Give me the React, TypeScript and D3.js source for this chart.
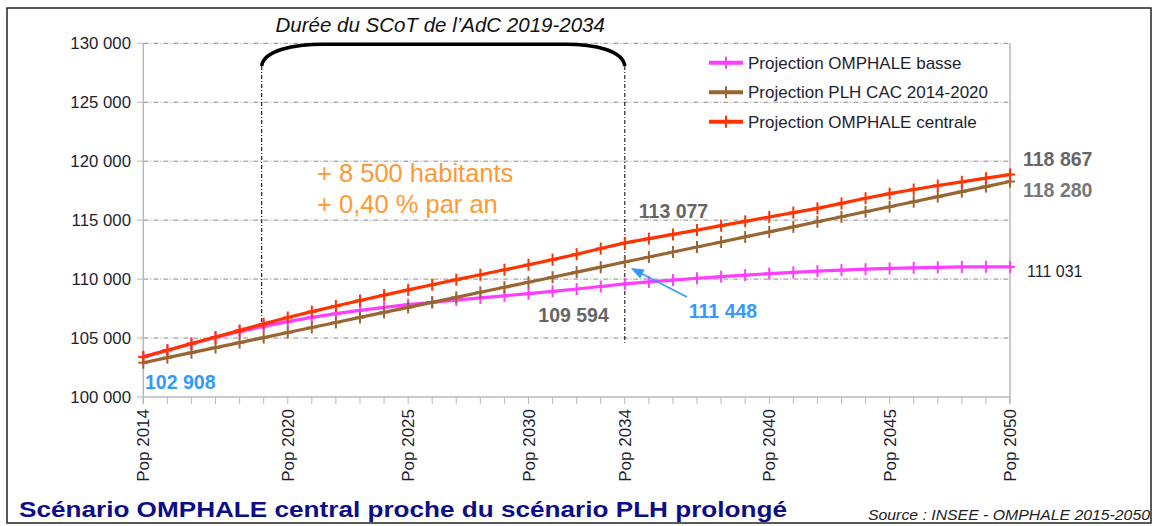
import React from "react";
import * as d3 from "d3";

const years = [2014,2015,2016,2017,2018,2019,2020,2021,2022,2023,2024,2025,2026,2027,2028,2029,2030,2031,2032,2033,2034,2035,2036,2037,2038,2039,2040,2041,2042,2043,2044,2045,2046,2047,2048,2049,2050];

const basse = [103400,103960,104520,105050,105550,105990,106390,106750,107070,107350,107600,107830,108030,108220,108400,108580,108770,108960,109160,109370,109594,109760,109920,110070,110210,110340,110460,110570,110670,110760,110840,110910,110960,111000,111030,111045,111031];
const plh = [102908,103335,103760,104190,104615,105040,105470,105895,106320,106750,107175,107600,108030,108455,108880,109310,109735,110160,110590,111015,111448,111870,112300,112725,113150,113580,114005,114430,114860,115285,115710,116140,116565,116990,117420,117845,118280];
const centrale = [103400,103960,104530,105090,105650,106200,106740,107240,107720,108190,108640,109090,109520,109950,110370,110790,111220,111650,112110,112590,113077,113430,113790,114160,114530,114900,115270,115640,116000,116420,116860,117250,117600,117940,118250,118560,118867];

const yTicks = [100000,105000,110000,115000,120000,125000,130000];
const xLabelYears = [2014,2020,2025,2030,2034,2040,2045,2050];

const seriesNames = ["Projection OMPHALE basse","Projection PLH CAC 2014-2020","Projection OMPHALE centrale"];
const seriesColors = ["#ff3dff","#996633","#ff3300"];
const seriesValues = [basse, plh, centrale];

const fmt = (v: number) => d3.format(",")(v).replace(/,/g, " ");

export default function App() {
  const x = d3.scaleLinear().domain([2014, 2050]).range([143.3, 1010]);
  const y = d3.scaleLinear().domain([100000, 130000]).range([397, 43.3]);
  const line = d3.line<number>().x((_, i) => x(years[i])).y((d) => y(d));
  const font = "'Liberation Sans', Arial, sans-serif";
  const grid = "#8a8a8a";
  const axis = "#b8b8b8";

  const xs = x(2019);
  const xe = x(2034);
  const braceTop = y(130000) + 1;
  const braceEnd = 66;

  // arrow
  const tipX = x(2034) + 6, tipY = y(111448) + 6;
  const tailX = x(2036) + 14, tailY = y(111448) + 35;
  const ang = Math.atan2(tipY - tailY, tipX - tailX);
  const ah = 13, aw = 5;
  const bx = tipX - ah * Math.cos(ang), by = tipY - ah * Math.sin(ang);
  const p1 = [bx + aw * Math.sin(ang), by - aw * Math.cos(ang)];
  const p2 = [bx - aw * Math.sin(ang), by + aw * Math.cos(ang)];

  return (
    <svg width={1155} height={526} style={{ position: "absolute", left: 0, top: 0, background: "#fff" }} fontFamily={font}>
      <rect x={0} y={0} width={1155} height={526} fill="#fff" />
      <rect x={7} y={8} width={1144} height={515} fill="none" stroke="#222" strokeWidth={1.5} />

      {/* gridlines */}
      {yTicks.map((t) => (
        <g key={t}>
          <line x1={137} x2={143.3} y1={y(t)} y2={y(t)} stroke={axis} strokeWidth={1} />
          {t > 100000 && (
            <line x1={143.3} x2={1010} y1={y(t)} y2={y(t)} stroke={grid} strokeWidth={1} strokeDasharray="5,2,1,2" />
          )}
          <text x={131} y={y(t) + 6} fontSize={16.8} textAnchor="end" fill="#1e1e2e">{fmt(t)}</text>
        </g>
      ))}

      {/* axes */}
      <line x1={143.3} x2={143.3} y1={y(130000)} y2={404} stroke={axis} strokeWidth={1.5} />
      <line x1={1010} x2={1010} y1={y(130000)} y2={404} stroke={axis} strokeWidth={1.5} />
      <line x1={143.3} x2={1010} y1={397} y2={397} stroke={axis} strokeWidth={1.5} />
      {years.map((yr) => (
        <line key={yr} x1={x(yr)} x2={x(yr)} y1={397} y2={404} stroke={axis} strokeWidth={1} />
      ))}
      {xLabelYears.map((yr) => (
        <text key={yr} transform={`translate(${x(yr) + 6},409) rotate(-90)`} fontSize={17} textAnchor="end" fill="#1e1e2e">{`Pop ${yr}`}</text>
      ))}

      {/* SCoT annotation */}
      <line x1={xs - 2} x2={xs - 2} y1={braceEnd} y2={y(105900)} stroke="#111" strokeWidth={1.1} strokeDasharray="4,2,1,2" />
      <line x1={xe} x2={xe} y1={braceEnd} y2={y(104600)} stroke="#111" strokeWidth={1.1} strokeDasharray="4,2,1,2" />
      <path d={`M${xs - 2},${braceEnd} C${xs},${braceTop + 6} ${xs + 30},${braceTop} ${xs + 60},${braceTop} L${xe - 60},${braceTop} C${xe - 30},${braceTop} ${xe - 2},${braceTop + 6} ${xe},${braceEnd}`} fill="none" stroke="#000" strokeWidth={3.5} />
      <text x={(xs + xe) / 2 - 4} y={32} fontSize={20.5} fontStyle="italic" textAnchor="middle" fill="#111">Durée du SCoT de l’AdC 2019-2034</text>

      {/* series */}
      {seriesValues.map((vals, s) => (
        <g key={s}>
          <path d={line(vals) || ""} fill="none" stroke={seriesColors[s]} strokeWidth={3.2} />
          {vals.map((v, i) => (
            <g key={i} stroke={seriesColors[s]} strokeWidth={2}>
              <line x1={x(years[i])} x2={x(years[i])} y1={y(v) - 6} y2={y(v) + 6} />
              <line x1={x(years[i]) - 5} x2={x(years[i]) + 5} y1={y(v)} y2={y(v)} />
            </g>
          ))}
        </g>
      ))}

      {/* legend */}
      {seriesNames.map((n, i) => {
        const ly = 62.7 + i * 29.5;
        return (
          <g key={n}>
            <line x1={709} x2={743} y1={ly} y2={ly} stroke={seriesColors[i]} strokeWidth={4} />
            <line x1={726} x2={726} y1={ly - 6} y2={ly + 6} stroke={seriesColors[i]} strokeWidth={2} />
            <text x={748} y={ly + 6} fontSize={17} fill="#1e1e2e">{n}</text>
          </g>
        );
      })}

      {/* text annotations */}
      <text x={317} y={182} fontSize={25.5} fill="#ff9933">+ 8 500 habitants</text>
      <text x={317} y={213} fontSize={25.5} fill="#ff9933">+ 0,40 % par an</text>

      <text x={x(2034) + 14} y={218} fontSize={19.5} fontWeight="bold" fill="#666">{fmt(centrale[20])}</text>
      <text x={x(2034) - 16} y={322} fontSize={19.5} fontWeight="bold" fill="#666" textAnchor="end">{fmt(basse[20])}</text>
      <text x={723} y={318} fontSize={19.5} fontWeight="bold" fill="#3399ff" textAnchor="middle">{fmt(plh[20])}</text>
      <text x={145} y={389} fontSize={19.5} fontWeight="bold" fill="#3399ff">{fmt(plh[0])}</text>
      <text x={1023} y={166} fontSize={19.5} fontWeight="bold" fill="#666">{fmt(centrale[36])}</text>
      <text x={1023} y={197} fontSize={19.5} fontWeight="bold" fill="#777">{fmt(plh[36])}</text>
      <text x={1027} y={277} fontSize={16} fill="#1e1e2e">{fmt(basse[36])}</text>

      <line x1={tailX} y1={tailY} x2={bx} y2={by} stroke="#3399ff" strokeWidth={1.5} />
      <polygon points={`${tipX},${tipY} ${p1[0]},${p1[1]} ${p2[0]},${p2[1]}`} fill="#3399ff" />

      {/* footer */}
      <text x={19} y={517} fontSize={22} fontWeight="bold" fill="#0d0d8a" textLength={768} lengthAdjust="spacingAndGlyphs">Scénario OMPHALE central proche du scénario PLH prolongé</text>
      <text x={868} y={520} fontSize={15} fontStyle="italic" fill="#222" textLength={282} lengthAdjust="spacingAndGlyphs">Source : INSEE - OMPHALE 2015-2050</text>
    </svg>
  );
}
